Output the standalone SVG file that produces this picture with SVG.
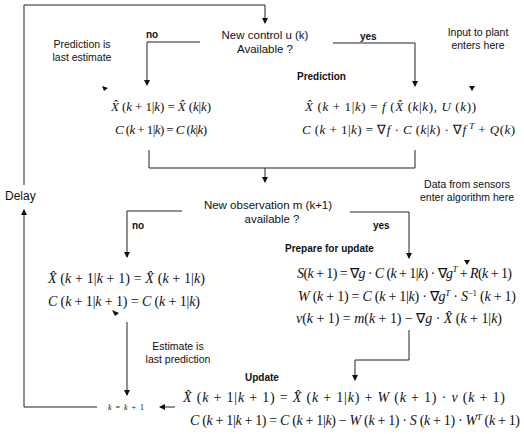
<svg xmlns="http://www.w3.org/2000/svg" width="524" height="434" viewBox="0 0 524 434">
<defs>
<marker id="ah" markerWidth="6" markerHeight="6" refX="5" refY="3" orient="auto" markerUnits="userSpaceOnUse">
<path d="M0,0 L6,3 L0,6 z" fill="#111"/>
</marker>
<style>
.lbl{font-family:"Liberation Sans",Arial,sans-serif;font-size:10.5px;fill:#111}
.big{font-family:"Liberation Sans",Arial,sans-serif;font-size:11.5px;fill:#111}
.bold{font-family:"Liberation Sans",Arial,sans-serif;font-size:10px;font-weight:bold;fill:#111}
.eq{font-family:"Liberation Serif","Times New Roman",serif;font-size:14px;fill:#111}
.sm{font-size:13px}
.i{font-style:italic}
.sup{font-size:9px}
.ln{fill:none;stroke:#222;stroke-width:1}
.mk{fill:#111}
</style>
</defs>
<rect width="524" height="434" fill="#fff"/>

<g id="connectors">
<path class="ln" d="M24,185 V5 H265 V23" marker-end="url(#ah)"/>
<path class="ln" d="M200,42 H147 V85" marker-end="url(#ah)"/>
<path class="ln" d="M333,43 H415 V86" marker-end="url(#ah)"/>
<path class="ln" d="M149,150 V168 H415 V150"/>
<path class="ln" d="M265,168 V182" marker-end="url(#ah)"/>
<path class="ln" d="M182,211 H127 V257" marker-end="url(#ah)"/>
<path class="ln" d="M350,212 H409 V258" marker-end="url(#ah)"/>
<path class="ln" d="M409,330 V360 H355 V380" marker-end="url(#ah)"/>
<path class="ln" d="M127,322 V395" marker-end="url(#ah)"/>
<path class="ln" d="M175,407 H160" marker-end="url(#ah)"/>
<path class="ln" d="M97,407 H24 V210" marker-end="url(#ah)"/>
<polygon class="mk" points="469,86 475,86 472,91"/>
<polygon class="mk" points="464,260 470,260 467,265"/>
<polygon class="mk" points="102,86 108,88 104,91"/>
<polygon class="mk" points="112,310 119,313 115,316"/>
</g>

<g id="new-control">
<text class="big" x="265" y="39" text-anchor="middle">New control u (k)</text>
<text class="big" x="265" y="53" text-anchor="middle">Available ?</text>
</g>
<g id="label-no-1"><text class="bold" x="146" y="38">no</text></g>
<g id="label-yes-1"><text class="bold" x="360" y="40">yes</text></g>
<g id="note-prediction-is">
<text class="lbl" x="82" y="48" text-anchor="middle">Prediction is</text>
<text class="lbl" x="82" y="61" text-anchor="middle">last estimate</text>
</g>
<g id="note-input">
<text class="lbl" x="478" y="36" text-anchor="middle">Input to plant</text>
<text class="lbl" x="478" y="49" text-anchor="middle">enters here</text>
</g>

<g id="predict-no">
<text class="eq sm" x="111" y="111" textLength="100" lengthAdjust="spacing"><tspan class="i">X̂</tspan> (<tspan class="i">k</tspan> + 1|<tspan class="i">k</tspan>) = <tspan class="i">X̂</tspan> (<tspan class="i">k</tspan>|<tspan class="i">k</tspan>)</text>
<text class="eq sm" x="115" y="134" textLength="92" lengthAdjust="spacing"><tspan class="i">C</tspan> (<tspan class="i">k</tspan> + 1|<tspan class="i">k</tspan>) = <tspan class="i">C</tspan> (<tspan class="i">k</tspan>|<tspan class="i">k</tspan>)</text>
</g>

<g id="predict-yes">
<text class="bold" x="297" y="80">Prediction</text>
<text class="eq sm" x="305" y="111" textLength="171" lengthAdjust="spacing"><tspan class="i">X̂</tspan> (<tspan class="i">k</tspan> + 1|<tspan class="i">k</tspan>) = <tspan class="i">f</tspan> (<tspan class="i">X̂</tspan> (<tspan class="i">k</tspan>|<tspan class="i">k</tspan>), <tspan class="i">U</tspan> (<tspan class="i">k</tspan>))</text>
<text class="eq sm" x="302" y="134" textLength="213" lengthAdjust="spacing"><tspan class="i">C</tspan> (<tspan class="i">k</tspan> + 1|<tspan class="i">k</tspan>) = ∇<tspan class="i">f</tspan> · <tspan class="i">C</tspan> (<tspan class="i">k</tspan>|<tspan class="i">k</tspan>) · ∇<tspan class="i">f</tspan><tspan class="sup i" dy="-5"> T</tspan><tspan dy="5"> + </tspan><tspan class="i">Q</tspan>(<tspan class="i">k</tspan>)</text>
</g>

<g id="note-sensors">
<text class="lbl" x="467" y="188" text-anchor="middle">Data from sensors</text>
<text class="lbl" x="467" y="201" text-anchor="middle">enter algorithm here</text>
</g>

<g id="new-observation">
<text class="big" x="268" y="209" text-anchor="middle">New observation m (k+1)</text>
<text class="big" x="272" y="223" text-anchor="middle">available ?</text>
</g>
<g id="delay"><text class="big" x="5" y="200" style="font-size:12px">Delay</text></g>
<g id="label-no-2"><text class="bold" x="132" y="229">no</text></g>
<g id="label-yes-2"><text class="bold" x="373" y="229">yes</text></g>

<g id="estimate-no">
<text class="eq" x="48" y="283" textLength="157" lengthAdjust="spacing"><tspan class="i">X̂</tspan> (<tspan class="i">k</tspan> + 1|<tspan class="i">k</tspan> + 1) = <tspan class="i">X̂</tspan> (<tspan class="i">k</tspan> + 1|<tspan class="i">k</tspan>)</text>
<text class="eq" x="48" y="306" textLength="152" lengthAdjust="spacing"><tspan class="i">C</tspan> (<tspan class="i">k</tspan> + 1|<tspan class="i">k</tspan> + 1) = <tspan class="i">C</tspan> (<tspan class="i">k</tspan> + 1|<tspan class="i">k</tspan>)</text>
</g>
<g id="note-estimate">
<text class="lbl" x="178" y="350" text-anchor="middle">Estimate is</text>
<text class="lbl" x="178" y="363" text-anchor="middle">last prediction</text>
</g>

<g id="prepare-update">
<text class="bold" x="285" y="252">Prepare for update</text>
<text class="eq" x="297" y="278" textLength="215" lengthAdjust="spacing"><tspan class="i">S</tspan>(<tspan class="i">k</tspan> + 1) = ∇<tspan class="i">g</tspan> · <tspan class="i">C</tspan> (<tspan class="i">k</tspan> + 1|<tspan class="i">k</tspan>) · ∇<tspan class="i">g</tspan><tspan class="sup i" dy="-6">T</tspan><tspan dy="6"> + </tspan><tspan class="i">R</tspan>(<tspan class="i">k</tspan> + 1)</text>
<text class="eq" x="298" y="301" textLength="218" lengthAdjust="spacing"><tspan class="i">W</tspan> (<tspan class="i">k</tspan> + 1) = <tspan class="i">C</tspan> (<tspan class="i">k</tspan> + 1|<tspan class="i">k</tspan>) · ∇<tspan class="i">g</tspan><tspan class="sup i" dy="-5">T</tspan><tspan dy="5"> · </tspan><tspan class="i">S</tspan><tspan class="sup" dy="-5">−1</tspan><tspan dy="5"> (</tspan><tspan class="i">k</tspan> + 1)</text>
<text class="eq" x="296" y="323" textLength="206" lengthAdjust="spacing"><tspan class="i">v</tspan>(<tspan class="i">k</tspan> + 1) = <tspan class="i">m</tspan>(<tspan class="i">k</tspan> + 1) − ∇<tspan class="i">g</tspan> · <tspan class="i">X̂</tspan> (<tspan class="i">k</tspan> + 1|<tspan class="i">k</tspan>)</text>
</g>

<g id="update">
<text class="bold" x="245" y="381">Update</text>
<text class="eq" x="183" y="402" textLength="322" lengthAdjust="spacing"><tspan class="i">X̂</tspan> (<tspan class="i">k</tspan> + 1|<tspan class="i">k</tspan> + 1) = <tspan class="i">X̂</tspan> (<tspan class="i">k</tspan> + 1|<tspan class="i">k</tspan>) + <tspan class="i">W</tspan> (<tspan class="i">k</tspan> + 1) · <tspan class="i">v</tspan> (<tspan class="i">k</tspan> + 1)</text>
<text class="eq" x="190" y="425" textLength="330" lengthAdjust="spacing"><tspan class="i">C</tspan> (<tspan class="i">k</tspan> + 1|<tspan class="i">k</tspan> + 1) = <tspan class="i">C</tspan> (<tspan class="i">k</tspan> + 1|<tspan class="i">k</tspan>) − <tspan class="i">W</tspan> (<tspan class="i">k</tspan> + 1) · <tspan class="i">S</tspan> (<tspan class="i">k</tspan> + 1) · <tspan class="i">W</tspan><tspan class="sup i" dy="-5">T</tspan><tspan dy="5"> (</tspan><tspan class="i">k</tspan> + 1)</text>
</g>

<g id="increment">
<text class="eq" x="108" y="410" style="font-size:8px" textLength="36" lengthAdjust="spacing"><tspan class="i">k</tspan> = <tspan class="i">k</tspan> + 1</text>
</g>
</svg>
